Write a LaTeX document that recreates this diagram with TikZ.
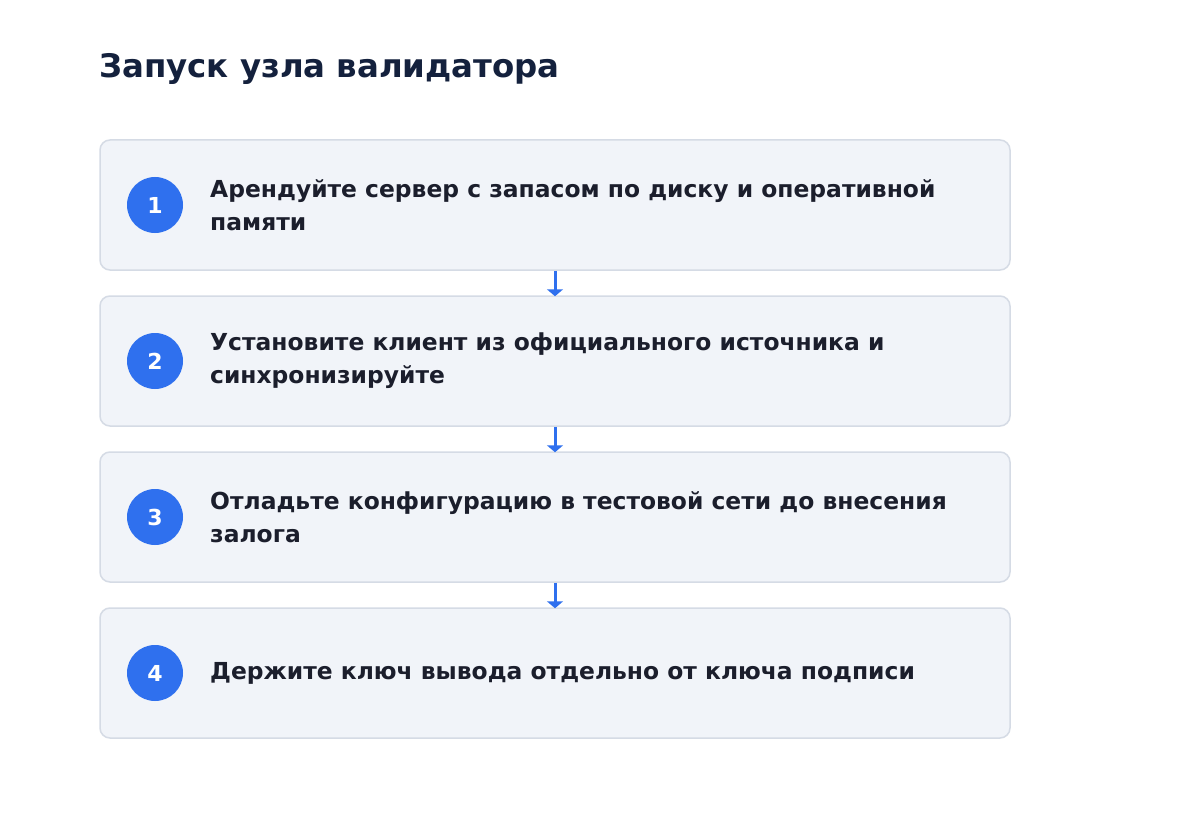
\documentclass[tikz,border=0pt]{standalone}
\usepackage{fontspec}
\setmainfont{DejaVu Sans}
\definecolor{boxfill}{HTML}{F1F4F9}
\definecolor{boxline}{HTML}{D5DBE5}
\definecolor{accent}{HTML}{2F70EE}
\definecolor{txt}{HTML}{1B1E2C}
\definecolor{ttl}{HTML}{14213D}
\usetikzlibrary{arrows.meta}
\tikzset{
  stepbox/.style={draw=boxline, line width=1.5pt, fill=boxfill, rounded corners=10pt, minimum width=910pt, minimum height=130pt, inner sep=0pt},
  numdot/.style={circle, fill=accent, minimum size=56pt, inner sep=0pt, text=white, font=\bfseries\fontsize{22}{26}\selectfont},
  steptext/.style={anchor=west, align=left, text=txt, font=\bfseries\fontsize{23.4}{33}\selectfont, inner sep=0pt},
  flow/.style={draw=accent, line width=3pt, -{Triangle[width=16pt,length=7pt]}, shorten >=-1pt}
}
\begin{document}
\begin{tikzpicture}[x=1pt,y=-1pt]
\useasboundingbox (0,0) rectangle (1200,824);
\fill[white] (0,0) rectangle (1200,824);
\node[anchor=west, inner sep=0pt, text=ttl, font=\bfseries\fontsize{32.4}{38}\selectfont] (title) at (99,69) {Запуск узла валидатора};
\foreach \i/\y in {1/205,2/361,3/517,4/673}{
  \node[stepbox] (b\i) at (555,\y) {};
  \node[numdot] (n\i) at (155,\y) {\i};
}
\node[steptext] (t1) at (210,205) {Арендуйте сервер с запасом по диску и оперативной\\памяти};
\node[steptext] (t2) at (210,361) {Установите клиент из официального источника и\\синхронизируйте};
\node[steptext] (t3) at (210,517) {Отладьте конфигурацию в тестовой сети до внесения\\залога};
\node[steptext] (t4) at (210,673) {Держите ключ вывода отдельно от ключа подписи};
\draw[flow] (b1.south) -- (b2.north);
\draw[flow] (b2.south) -- (b3.north);
\draw[flow] (b3.south) -- (b4.north);
\end{tikzpicture}
\end{document}
